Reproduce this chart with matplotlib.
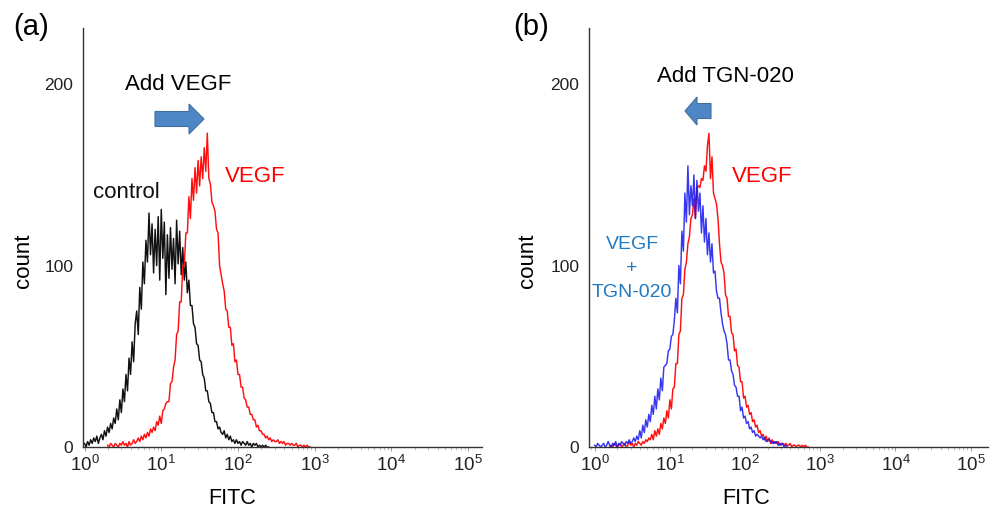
import numpy as np
import matplotlib
matplotlib.use('Agg')
import matplotlib.pyplot as plt
from matplotlib.patches import FancyArrow
from matplotlib.ticker import LogLocator, NullFormatter

plt.rcParams['font.family'] = ['Liberation Sans', 'DejaVu Sans']
plt.rcParams['mathtext.fontset'] = 'custom'
plt.rcParams['mathtext.rm'] = 'Liberation Sans'
plt.rcParams['mathtext.it'] = 'Liberation Sans:italic'

# ---------------- data (counts per log10(FITC) channel, step 0.02 decade) ----------------
log_step = 0.02

control_start = 0.00
control_counts = [2, 0, 3, 1, 4, 2, 5, 3, 6, 2,
                  5, 7, 4, 9, 6, 11, 8, 13, 10, 16,
                  13, 21, 15, 26, 19, 32, 25, 40, 31, 49,
                  40, 58, 47, 68, 75, 62, 88, 76, 102, 90,
                  114, 102, 129, 106, 123, 96, 120, 100, 127, 92,
                  131, 104, 124, 84, 117, 93, 121, 98, 115, 90,
                  125, 101, 119, 95, 110, 92, 102, 85, 92, 78,
                  78, 68, 66, 57, 56, 48, 47, 40, 38, 31,
                  31, 25, 24, 19, 19, 14, 14, 10, 11, 8,
                  7, 9, 5, 7, 4, 6, 3, 4, 2, 4,
                  2, 3, 1, 3, 2, 1, 3, 1, 2, 0,
                  2, 1, 2, 0, 1, 0, 1, 0, 1, 0,
                  0]

vegf_a_start = 0.30
vegf_a_counts = [1, 0, 2, 1, 0, 2, 1, 0, 2, 1,
                 3, 1, 2, 0, 3, 1, 2, 4, 2, 3,
                 5, 3, 6, 4, 7, 5, 8, 6, 10, 8,
                 11, 9, 14, 12, 17, 13, 20, 21, 24, 25,
                 25, 35, 36, 44, 48, 62, 64, 80, 80, 100,
                 100, 118, 118, 138, 126, 148, 136, 154, 140, 158,
                 144, 160, 148, 165, 152, 173, 148, 145, 135, 133,
                 130, 120, 118, 100, 95, 90, 86, 76, 75, 66,
                 66, 56, 57, 47, 48, 40, 40, 33, 33, 27,
                 26, 22, 22, 18, 18, 15, 15, 11, 12, 9,
                 9, 7, 7, 5, 6, 4, 5, 3, 4, 3,
                 3, 4, 2, 3, 2, 3, 1, 2, 2, 1,
                 2, 1, 1, 2, 0, 1, 1, 0, 1, 0,
                 1, 0, 0]

vegf_b_start = 0.20
vegf_b_counts = [0, 1, 0, 2, 1, 0, 1, 2, 0, 1,
                 2, 0, 1, 3, 1, 2, 0, 2, 1, 3,
                 2, 1, 3, 2, 4, 3, 5, 4, 7, 4,
                 9, 6, 10, 7, 13, 10, 16, 13, 20, 16,
                 26, 21, 32, 33, 46, 46, 62, 64, 82, 84,
                 98, 102, 112, 116, 126, 128, 137, 126, 143, 144,
                 143, 148, 147, 155, 152, 166, 173, 148, 160, 140,
                 137, 134, 126, 112, 102, 100, 96, 84, 82, 72,
                 72, 63, 62, 53, 54, 45, 44, 36, 36, 27,
                 28, 22, 23, 18, 19, 14, 15, 11, 12, 8,
                 9, 6, 7, 4, 6, 3, 5, 2, 4, 2,
                 3, 2, 3, 1, 2, 2, 1, 2, 1, 1,
                 2, 0, 1, 1, 0, 1, 1, 0, 1, 0,
                 1, 0, 0]

tgn_start = 0.00
tgn_counts = [1, 0, 2, 1, 0, 1, 2, 0, 1, 3,
              1, 0, 2, 1, 3, 0, 2, 1, 3, 2,
              1, 3, 2, 4, 2, 3, 5, 3, 6, 4,
              9, 5, 12, 8, 15, 11, 18, 14, 23, 18,
              28, 21, 32, 26, 38, 31, 44, 45, 46, 53,
              54, 61, 62, 70, 82, 74, 100, 90, 119, 108,
              140, 124, 155, 128, 144, 133, 150, 126, 147, 130,
              140, 118, 133, 113, 126, 106, 118, 102, 112, 96,
              97, 86, 82, 82, 74, 68, 64, 62, 57, 48,
              48, 42, 40, 34, 33, 28, 28, 20, 22, 16,
              17, 13, 14, 10, 11, 8, 9, 6, 7, 6,
              5, 6, 4, 5, 3, 4, 4, 3, 2, 3,
              2, 3, 1, 2, 1, 2, 0, 1, 0]

x_ticks = [1, 10, 100, 1000, 10000, 100000]
x_tick_labels = [r'$\mathregular{10^{%d}}$' % k for k in range(6)]
y_ticks = [0, 100, 200]
y_tick_labels = ['0', '100', '200']


def fitc(start, counts):
    return 10 ** (start + log_step * np.arange(len(counts)))


# ---------------- figure ----------------
fig = plt.figure(figsize=(10, 5.11), dpi=100)
ax_a = fig.add_axes([0.083, 0.1252, 0.399, 0.82])
ax_b = fig.add_axes([0.589, 0.1252, 0.399, 0.82])

RED = '#FF1010'
BLUE = '#1414F0'
BLACK = '#111111'
LW = 1.05

ax_a.plot(fitc(control_start, control_counts), control_counts, color=BLACK, lw=LW)
ax_a.plot(fitc(vegf_a_start, vegf_a_counts), vegf_a_counts, color=RED, lw=LW)

ax_b.plot(fitc(vegf_b_start, vegf_b_counts), vegf_b_counts, color=RED, lw=LW)
ax_b.plot(fitc(tgn_start, tgn_counts), tgn_counts, color=BLUE, lw=LW, alpha=0.85)

for ax, xlim, xlab_x, ylab_x in ((ax_a, (10 ** -0.02, 10 ** 5.18), 0.373, -0.148),
                                 (ax_b, (10 ** -0.075, 10 ** 5.23), 0.393, -0.155)):
    ax.set_xscale('log')
    ax.set_xlim(*xlim)
    ax.set_ylim(0, 231)
    ax.set_xticks(x_ticks)
    ax.set_xticklabels(x_tick_labels)
    ax.xaxis.set_minor_locator(LogLocator(base=10, subs=np.arange(2, 10)))
    ax.xaxis.set_minor_formatter(NullFormatter())
    ax.set_yticks(y_ticks)
    ax.set_yticklabels(y_tick_labels)
    ax.tick_params(axis='y', length=0, pad=7, labelsize=12.5, labelcolor='#222222')
    ax.tick_params(axis='x', which='major', length=3, width=0.6, color='#888888',
                   labelsize=13.5, pad=3, labelcolor='#222222')
    ax.tick_params(axis='x', which='minor', length=2, width=0.5, color='#aaaaaa')
    for s in ('top', 'right'):
        ax.spines[s].set_visible(False)
    for s in ('left', 'bottom'):
        ax.spines[s].set_color('#333333')
        ax.spines[s].set_linewidth(1.0)
    ax.set_ylabel('count', fontsize=16, va='center')
    ax.yaxis.set_label_coords(ylab_x, 0.444)
    ax.set_xlabel('FITC', fontsize=15.5, va='center')
    ax.xaxis.set_label_coords(xlab_x, -0.122)


def fy(py):
    return 1 - py / 511.0


# panel letters
fig.text(0.0315, fy(35), '(a)', fontsize=21, ha='center', va='baseline')
fig.text(0.5315, fy(35), '(b)', fontsize=21, ha='center', va='baseline')

# annotations panel a
fig.text(0.178, fy(90), 'Add VEGF', fontsize=16, ha='center', va='baseline')
fig.text(0.1265, fy(198), 'control', fontsize=16, ha='center', va='baseline', color='#111111')
fig.text(0.255, fy(182), 'VEGF', fontsize=16, ha='center', va='baseline', color='#FF0000')

# annotations panel b
fig.text(0.7255, fy(82), 'Add TGN-020', fontsize=16, ha='center', va='baseline')
fig.text(0.762, fy(182), 'VEGF', fontsize=16, ha='center', va='baseline', color='#FF0000')
TXT_BLUE = '#1F7AC4'
fig.text(0.632, fy(249), 'VEGF', fontsize=14, ha='center', va='baseline', color=TXT_BLUE)
fig.text(0.632, fy(273), '+', fontsize=14, ha='center', va='baseline', color=TXT_BLUE)
fig.text(0.632, fy(297), 'TGN-020', fontsize=14, ha='center', va='baseline', color=TXT_BLUE)

# block arrows
ARROW_FACE = '#4F86C6'
ARROW_EDGE = '#41709F'
fig.add_artist(FancyArrow(0.155, fy(119), 0.049, 0, width=15 / 511, head_width=30 / 511,
                          head_length=0.015, length_includes_head=True,
                          transform=fig.transFigure, facecolor=ARROW_FACE,
                          edgecolor=ARROW_EDGE, lw=0.8))
fig.add_artist(FancyArrow(0.711, fy(111), -0.026, 0, width=15 / 511, head_width=28 / 511,
                          head_length=0.012, length_includes_head=True,
                          transform=fig.transFigure, facecolor=ARROW_FACE,
                          edgecolor=ARROW_EDGE, lw=0.8))

fig.savefig('out.png', dpi=100)
